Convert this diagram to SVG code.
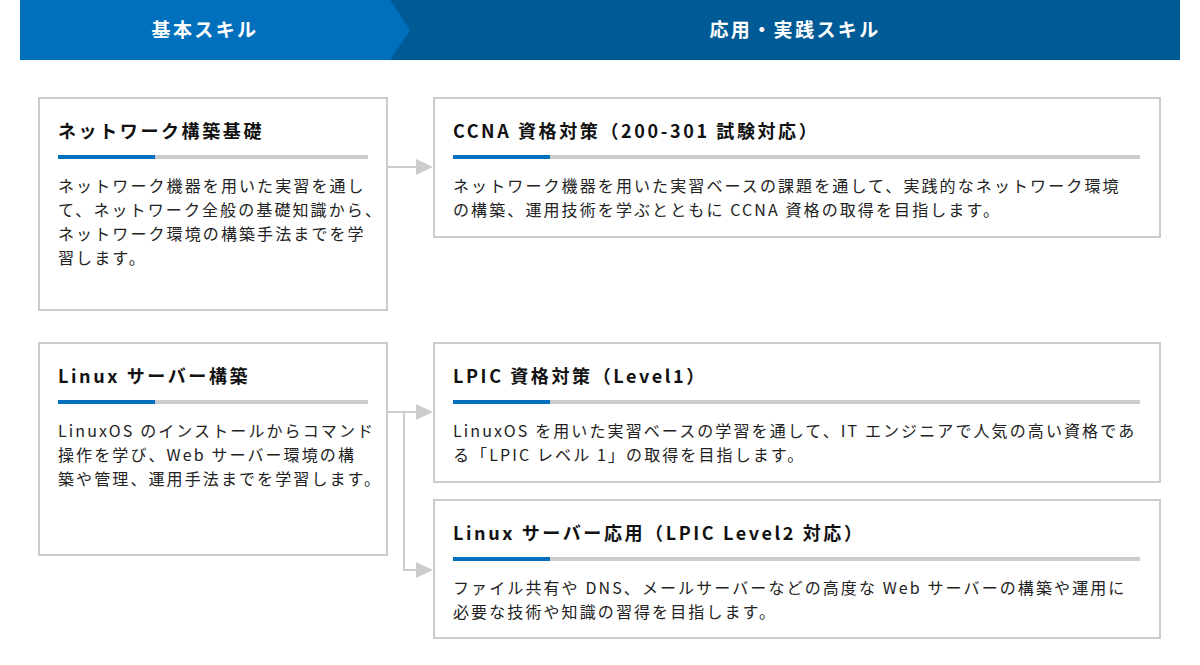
<svg xmlns="http://www.w3.org/2000/svg" width="1200" height="665" viewBox="0 0 1200 665">
<style>
text{font-family:"Noto Sans CJK JP","Noto Sans",sans-serif}
.box{fill:#fff;stroke:#cccccc;stroke-width:2}
.t{font-size:18px;font-weight:bold;fill:#111;letter-spacing:2.6px}
.b{font-size:16px;fill:#222;letter-spacing:2.1px}
.h{font-size:19px;font-weight:bold;fill:#fff;text-anchor:middle;letter-spacing:2.4px}
.ug{stroke:#cccccc;stroke-width:4}
.ub{stroke:#0070bc;stroke-width:4}
.c{stroke:#cccccc;stroke-width:2;fill:none}
.a{fill:#cccccc}
</style>
<g id="header">
<rect x="20" y="0" width="1160" height="60" fill="#005a96"/>
<polygon points="20,0 390,0 410,30 390,60 20,60" fill="#0070bc"/>
<text class="h" x="205" y="37">基本スキル</text>
<text class="h" x="795" y="37">応用・実践スキル</text>
</g>
<g id="connectors">
<path class="c" d="M387,167 H418"/>
<polygon class="a" points="416,159 433,167 416,175"/>
<path class="c" d="M387,412 H418 M404,412 V570 H418"/>
<polygon class="a" points="416,404 433,412 416,420"/>
<polygon class="a" points="416,562 433,570 416,578"/>
</g>
<g id="n1">
<rect class="box" x="39" y="98" width="348" height="212"/>
<text class="t" x="58" y="138">ネットワーク構築基礎</text>
<line class="ug" x1="58" y1="157" x2="368" y2="157"/><line class="ub" x1="58" y1="157" x2="155" y2="157"/>
<text class="b" x="58" y="192">ネットワーク機器を用いた実習を通し</text>
<text class="b" x="58" y="216">て、ネットワーク全般の基礎知識から、</text>
<text class="b" x="58" y="240">ネットワーク環境の構築手法までを学</text>
<text class="b" x="58" y="264">習します。</text>
</g>
<g id="n2">
<rect class="box" x="434" y="98" width="726" height="139"/>
<text class="t" x="453" y="138">CCNA 資格対策（200-301 試験対応）</text>
<line class="ug" x1="453" y1="157" x2="1140" y2="157"/><line class="ub" x1="453" y1="157" x2="550" y2="157"/>
<text class="b" x="453" y="192">ネットワーク機器を用いた実習ベースの課題を通して、実践的なネットワーク環境</text>
<text class="b" x="453" y="216">の構築、運用技術を学ぶとともに CCNA 資格の取得を目指します。</text>
</g>
<g id="n3">
<rect class="box" x="39" y="343" width="348" height="212"/>
<text class="t" x="58" y="383">Linux サーバー構築</text>
<line class="ug" x1="58" y1="402" x2="368" y2="402"/><line class="ub" x1="58" y1="402" x2="155" y2="402"/>
<text class="b" x="58" y="437">LinuxOS のインストールからコマンド</text>
<text class="b" x="58" y="461">操作を学び、Web サーバー環境の構</text>
<text class="b" x="58" y="485">築や管理、運用手法までを学習します。</text>
</g>
<g id="n4">
<rect class="box" x="434" y="343" width="726" height="139"/>
<text class="t" x="453" y="383">LPIC 資格対策（Level1）</text>
<line class="ug" x1="453" y1="402" x2="1140" y2="402"/><line class="ub" x1="453" y1="402" x2="550" y2="402"/>
<text class="b" x="453" y="437">LinuxOS を用いた実習ベースの学習を通して、IT エンジニアで人気の高い資格であ</text>
<text class="b" x="453" y="461">る「LPIC レベル 1」の取得を目指します。</text>
</g>
<g id="n5">
<rect class="box" x="434" y="500" width="726" height="138"/>
<text class="t" x="453" y="540">Linux サーバー応用（LPIC Level2 対応）</text>
<line class="ug" x1="453" y1="559" x2="1140" y2="559"/><line class="ub" x1="453" y1="559" x2="550" y2="559"/>
<text class="b" x="453" y="594">ファイル共有や DNS、メールサーバーなどの高度な Web サーバーの構築や運用に</text>
<text class="b" x="453" y="618">必要な技術や知識の習得を目指します。</text>
</g>
</svg>
